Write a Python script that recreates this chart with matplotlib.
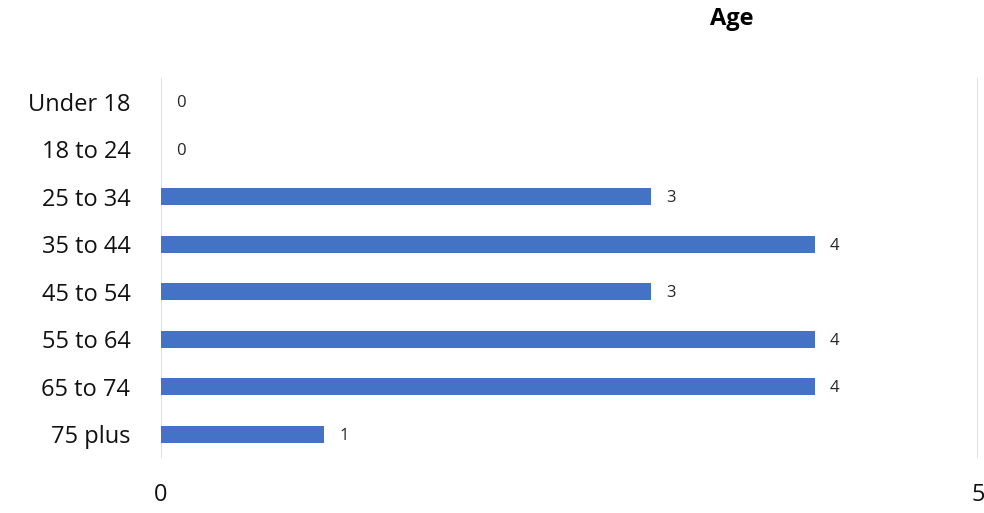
import matplotlib
matplotlib.use("Agg")
import matplotlib.pyplot as plt

categories = ["Under 18", "18 to 24", "25 to 34", "35 to 44",
              "45 to 54", "55 to 64", "65 to 74", "75 plus"]
counts = [0, 0, 3, 4, 3, 4, 4, 1]
x_ticks = [0, 5]

plt.rcParams['font.family'] = ['Open Sans', 'DejaVu Sans']

fig = plt.figure(figsize=(9.84, 5.13), dpi=100)
ax = fig.add_axes([0.1636, 0.1072, 0.8303, 0.7408])

pos = list(range(len(categories)))
ax.barh(pos, counts, height=0.36, color="#4472C4")
ax.set_ylim(len(categories) - 0.5, -0.5)
ax.set_xlim(0, 5)

for p, c in zip(pos, counts):
    ax.text(c + 0.09, p + 0.03, str(c), va="center", ha="left", fontsize=12, color="#262626")

ax.set_yticks(pos)
ax.set_yticklabels(categories, fontsize=17, color="#111111")
ax.set_xticks(x_ticks)
ax.set_xticklabels([str(t) for t in x_ticks], fontsize=17, color="#111111")
ax.tick_params(axis="both", length=0)
ax.tick_params(axis="x", pad=18)
ax.tick_params(axis="y", pad=22)

for s in ax.spines.values():
    s.set_visible(False)
ax.grid(axis="x", color="#D9D9D9", linewidth=1.2)
ax.set_axisbelow(True)

fig.text(0.744, 0.962, "Age", ha="center", va="center", fontsize=17, fontweight="bold")

fig.savefig("out.png", dpi=100)
